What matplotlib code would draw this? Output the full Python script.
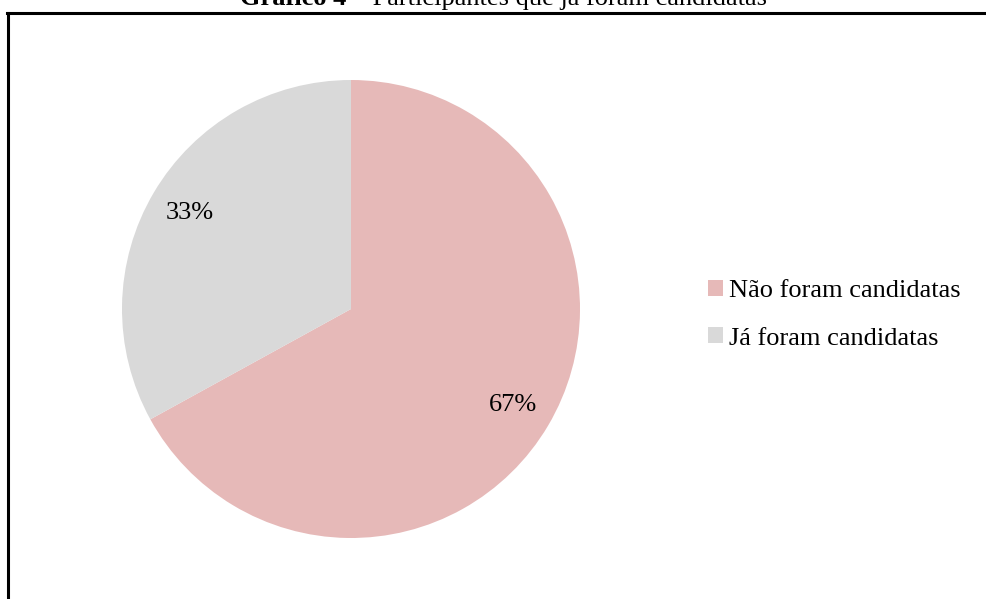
import matplotlib
matplotlib.use("Agg")
import matplotlib.pyplot as plt
from matplotlib.lines import Line2D
from matplotlib.patches import Patch

categories = ["Não foram candidatas", "Já foram candidatas"]
values = [67, 33]
colors = ["#E6B9B8", "#D9D9D9"]
title_bold = "Gráfico 4 –"
title_rest = " Participantes que já foram candidatas"

plt.rcParams['font.family'] = ['Liberation Serif', 'DejaVu Serif']

W, H = 986, 599
fig = plt.figure(figsize=(W / 100, H / 100), dpi=100)
fig.patch.set_facecolor("white")

cx, cy, r = 351, 309, 229
ax = fig.add_axes([(cx - r) / W, (H - cy - r) / H, 2 * r / W, 2 * r / H])
wedges, texts, autotexts = ax.pie(
    values, colors=colors, startangle=90, counterclock=False,
    autopct=lambda p: f"{p:.0f}%", pctdistance=0.82, radius=1,
    textprops=dict(fontsize=19, color="black"))
ax.set_xlim(-1, 1)
ax.set_ylim(-1, 1)
ax.set_aspect("equal")
ax.axis("off")

handles = [Patch(facecolor=c, edgecolor="none") for c in colors]
fig.legend(handles, categories, loc="upper left",
           bbox_to_anchor=(708 / W, 1 - 280 / H), frameon=False,
           fontsize=19, handlelength=0.55, handleheight=0.55,
           handletextpad=0.25, labelspacing=0.95, borderaxespad=0,
           borderpad=0)

# frame lines
fig.add_artist(Line2D([7 / W, 1], [1 - 13 / H, 1 - 13 / H], color="black",
                      lw=2.2, transform=fig.transFigure))
fig.add_artist(Line2D([8 / W, 8 / W], [0, 1 - 13 / H], color="black",
                      lw=2.2, transform=fig.transFigure))

# title (partly cut off at the top, as in the source)
t1 = fig.text(240 / W, 1 - 5 / H, title_bold, fontsize=19, fontweight="bold",
              ha="left", va="baseline")
fig.canvas.draw()
bb = t1.get_window_extent()
fig.text(bb.x1 / W, 1 - 5 / H, title_rest, fontsize=19, ha="left",
         va="baseline")

fig.savefig("out.png", dpi=100)
